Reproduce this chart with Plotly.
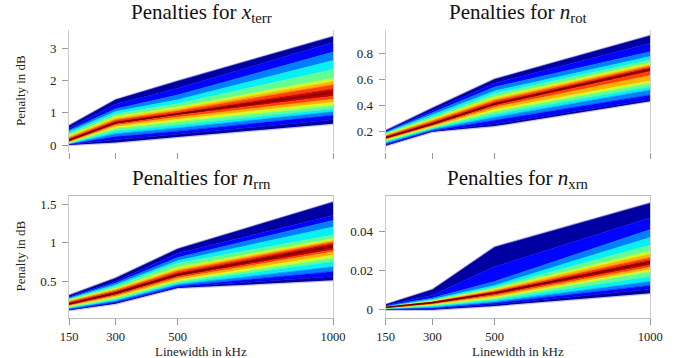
import numpy as np
import plotly.graph_objects as go
from plotly.subplots import make_subplots

# ---------------- data ----------------
linewidth_khz = [150, 300, 500, 1000]

# boundaries of the density bands, from outer edge (row 0) to the innermost band (row 8)
xterr_upper = [
    [0.60, 1.40, 1.98, 3.36],
    [0.52, 1.26, 1.76, 3.18],
    [0.46, 1.12, 1.55, 2.88],
    [0.41, 1.04, 1.40, 2.62],
    [0.35, 0.96, 1.28, 2.34],
    [0.30, 0.89, 1.18, 2.07],
    [0.26, 0.83, 1.12, 1.97],
    [0.22, 0.78, 1.06, 1.87],
    [0.18, 0.73, 1.00, 1.74],
]
xterr_median = [0.15, 0.69, 0.96, 1.63]
xterr_lower = [
    [0.00, 0.08, 0.25, 0.66],
    [0.01, 0.16, 0.33, 0.78],
    [0.02, 0.26, 0.43, 0.92],
    [0.03, 0.35, 0.53, 1.03],
    [0.045, 0.43, 0.62, 1.12],
    [0.06, 0.51, 0.71, 1.22],
    [0.08, 0.56, 0.79, 1.32],
    [0.10, 0.61, 0.86, 1.42],
    [0.12, 0.65, 0.92, 1.51],
]

nrot_upper = [
    [0.205, 0.378, 0.600, 0.935],
    [0.200, 0.360, 0.570, 0.877],
    [0.195, 0.342, 0.540, 0.812],
    [0.190, 0.325, 0.510, 0.775],
    [0.185, 0.310, 0.488, 0.748],
    [0.178, 0.298, 0.466, 0.728],
    [0.172, 0.288, 0.450, 0.713],
    [0.165, 0.278, 0.436, 0.700],
    [0.158, 0.267, 0.422, 0.688],
]
nrot_median = [0.150, 0.256, 0.410, 0.676]
nrot_lower = [
    [0.090, 0.197, 0.240, 0.432],
    [0.095, 0.201, 0.256, 0.445],
    [0.102, 0.207, 0.285, 0.480],
    [0.110, 0.214, 0.308, 0.518],
    [0.120, 0.222, 0.330, 0.543],
    [0.128, 0.229, 0.350, 0.570],
    [0.135, 0.235, 0.368, 0.588],
    [0.140, 0.242, 0.385, 0.630],
    [0.145, 0.249, 0.398, 0.660],
]

nrrn_upper = [
    [0.320, 0.543, 0.920, 1.525],
    [0.302, 0.500, 0.864, 1.355],
    [0.290, 0.480, 0.810, 1.290],
    [0.280, 0.457, 0.770, 1.205],
    [0.270, 0.436, 0.735, 1.100],
    [0.260, 0.415, 0.685, 1.056],
    [0.250, 0.400, 0.660, 1.030],
    [0.240, 0.385, 0.635, 1.012],
    [0.225, 0.368, 0.610, 0.990],
]
nrrn_median = [0.210, 0.350, 0.586, 0.955]
nrrn_lower = [
    [0.128, 0.214, 0.415, 0.515],
    [0.135, 0.225, 0.425, 0.565],
    [0.140, 0.235, 0.440, 0.630],
    [0.150, 0.250, 0.460, 0.690],
    [0.160, 0.265, 0.480, 0.756],
    [0.170, 0.285, 0.500, 0.800],
    [0.180, 0.300, 0.520, 0.840],
    [0.190, 0.315, 0.545, 0.885],
    [0.200, 0.330, 0.564, 0.910],
]

nxrn_upper = [
    [0.0027, 0.0103, 0.0320, 0.0545],
    [0.0023, 0.0075, 0.0220, 0.0470],
    [0.0020, 0.0060, 0.0145, 0.0410],
    [0.0019, 0.0054, 0.0125, 0.0370],
    [0.0018, 0.0050, 0.0115, 0.0330],
    [0.0017, 0.0046, 0.0108, 0.0300],
    [0.0016, 0.0044, 0.0102, 0.0285],
    [0.0015, 0.0042, 0.0096, 0.0267],
    [0.0014, 0.0040, 0.0090, 0.0255],
]
nxrn_median = [0.0013, 0.0037, 0.0086, 0.0243]
nxrn_lower = [
    [0.0000, 0.0000, 0.0020, 0.0085],
    [0.0002, 0.0004, 0.0027, 0.0105],
    [0.0003, 0.0008, 0.0035, 0.0125],
    [0.0005, 0.0013, 0.0042, 0.0145],
    [0.0006, 0.0018, 0.0050, 0.0170],
    [0.0008, 0.0023, 0.0058, 0.0195],
    [0.0009, 0.0027, 0.0065, 0.0205],
    [0.0010, 0.0030, 0.0072, 0.0218],
    [0.0011, 0.0033, 0.0078, 0.0228],
]

titles = ["Penalties for <i>x</i><sub>terr</sub>", "Penalties for <i>n</i><sub>rot</sub>",
          "Penalties for <i>n</i><sub>rrn</sub>", "Penalties for <i>n</i><sub>xrn</sub>"]
ytick_vals = [[0, 1, 2, 3], [0.2, 0.4, 0.6, 0.8], [0.5, 1, 1.5], [0, 0.02, 0.04]]
ytick_text = [["0", "1", "2", "3"], ["0.2", "0.4", "0.6", "0.8"], ["0.5", "1", "1.5"], ["0", "0.02", "0.04"]]
xtick_text = ["150", "300", "500", "1000"]
y_title = "Penalty in dB"
x_title = "Linewidth in kHz"

# ---------------- style ----------------
W, H = 686, 358
FONT = "Liberation Serif"
band_levels = [0.03, 0.13, 0.25, 0.36, 0.47, 0.60, 0.72, 0.84, 0.94]


def jet(c):
    r = np.interp(c, [0, 0.35, 0.66, 0.89, 1], [0, 0, 1, 1, 0.5])
    g = np.interp(c, [0, 0.125, 0.375, 0.64, 0.91, 1], [0, 0, 1, 1, 0, 0])
    b = np.interp(c, [0, 0.11, 0.34, 0.65, 1], [0.5, 1, 1, 0, 0])
    return "rgb(%d,%d,%d)" % (round(r * 255), round(g * 255), round(b * 255))


# pixel frames (left, right, top, bottom)
frames = [(69, 333, 30, 152), (385.7, 650.3, 30, 152),
          (69, 333, 195.5, 317.5), (385.7, 650.3, 195.5, 317.5)]
yranges = [[-0.217, 3.566], [0.041, 0.979], [0.035, 1.612], [-0.0039, 0.0584]]

datasets = [(xterr_upper, xterr_median, xterr_lower), (nrot_upper, nrot_median, nrot_lower),
            (nrrn_upper, nrrn_median, nrrn_lower), (nxrn_upper, nxrn_median, nxrn_lower)]

fig = make_subplots(rows=2, cols=2)
pos = [(1, 1), (1, 2), (2, 1), (2, 2)]

for k, (upper, median, lower) in enumerate(datasets):
    r, c = pos[k]
    # soft outer halo
    for edge in (upper[0], lower[0]):
        fig.add_trace(go.Scatter(x=linewidth_khz, y=edge, mode="lines",
                                 line=dict(width=2.5, color="rgba(0,0,130,0.22)"),
                                 showlegend=False, hoverinfo="skip"), row=r, col=c)
    # curves from bottom to top
    curves = list(lower) + [median] + list(reversed(upper))
    colors = [jet(band_levels[i]) for i in range(len(lower))]
    colors += [jet(band_levels[i]) for i in reversed(range(len(upper)))]
    for i, yv in enumerate(curves):
        if i == 0:
            fig.add_trace(go.Scatter(x=linewidth_khz, y=yv, mode="lines",
                                     line=dict(width=0, color=colors[0]), showlegend=False,
                                     hoverinfo="skip"), row=r, col=c)
        else:
            col = colors[i - 1]
            fig.add_trace(go.Scatter(x=linewidth_khz, y=yv, mode="lines", fill="tonexty",
                                     fillcolor=col, line=dict(width=0.6, color=col),
                                     showlegend=False, hoverinfo="skip"), row=r, col=c)
    fig.add_trace(go.Scatter(x=linewidth_khz, y=median, mode="lines",
                             line=dict(width=1.6, color="rgb(120,0,0)"),
                             showlegend=False, hoverinfo="skip"), row=r, col=c)

tickfont = dict(family=FONT, size=13, color="#222")
for k in range(4):
    l, rr, t, b = frames[k]
    xa = "xaxis" if k == 0 else "xaxis%d" % (k + 1)
    ya = "yaxis" if k == 0 else "yaxis%d" % (k + 1)
    bottom = k >= 2
    fig.layout[xa].update(
        domain=[l / W, rr / W], range=[150, 1000], tickvals=linewidth_khz,
        ticktext=xtick_text, showticklabels=bottom, ticks="outside", ticklen=6,
        tickcolor="#999", tickwidth=1, showgrid=False, zeroline=False,
        showline=bottom, linecolor="#bbb", linewidth=1, mirror=bottom,
        tickfont=dict(family=FONT, size=12.5, color="#222"), ticklabelstandoff=1,
        automargin=False,
    )
    fig.layout[ya].update(
        domain=[1 - b / H, 1 - t / H], range=yranges[k], tickvals=ytick_vals[k],
        ticktext=ytick_text[k], ticks="outside", ticklen=6, tickcolor="#999",
        showgrid=False, zeroline=False, showline=True, linecolor="#ccc", linewidth=1,
        mirror=True, tickfont=tickfont, ticklabelstandoff=3, automargin=False,
    )

annotations = []
for k in range(4):
    l, rr, t, b = frames[k]
    cx = (l + rr) / 2 / W
    annotations.append(dict(text=titles[k], x=cx, y=1 - (t - 17) / H, xref="paper", yref="paper",
                            xanchor="center", yanchor="middle", showarrow=False,
                            font=dict(family=FONT, size=21, color="#111")))
    if k in (0, 2):
        annotations.append(dict(text=y_title, x=20 / W, y=1 - (t + b) / 2 / H, xref="paper",
                                yref="paper", textangle=-90, xanchor="center", yanchor="middle",
                                showarrow=False, font=dict(family=FONT, size=13, color="#222")))
    if k >= 2:
        annotations.append(dict(text=x_title, x=cx, y=1 - 351 / H, xref="paper", yref="paper",
                                xanchor="center", yanchor="middle", showarrow=False,
                                font=dict(family=FONT, size=13, color="#222")))

fig.update_layout(width=W, height=H, margin=dict(l=0, r=0, t=0, b=0),
                  paper_bgcolor="white", plot_bgcolor="white", annotations=annotations,
                  showlegend=False)

fig.write_html("out.html", config={"displayModeBar": False},
               post_script="document.body.style.margin='0';document.body.style.padding='0';")
